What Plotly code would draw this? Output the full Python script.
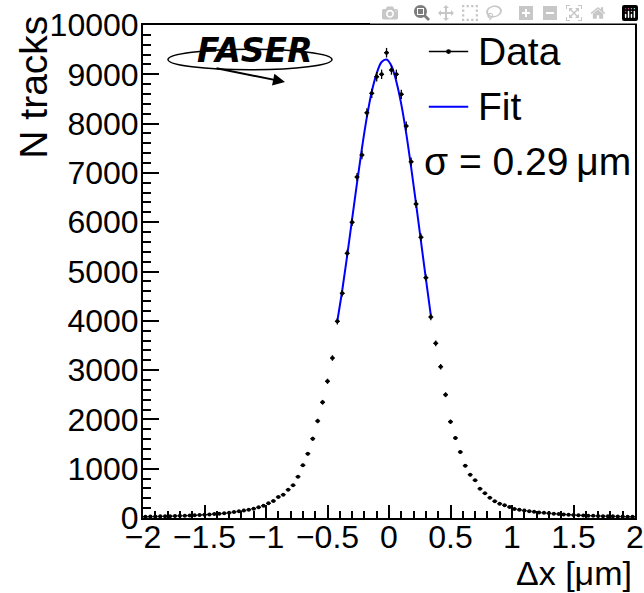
import numpy as np
import plotly.graph_objects as go

# ---- data ----
bin_centers = [
    -1.98, -1.94, -1.90, -1.86, -1.82, -1.78, -1.74, -1.70, -1.66, -1.62,
    -1.58, -1.54, -1.50, -1.46, -1.42, -1.38, -1.34, -1.30, -1.26, -1.22,
    -1.18, -1.14, -1.10, -1.06, -1.02, -0.98, -0.94, -0.90, -0.86, -0.82,
    -0.78, -0.74, -0.70, -0.66, -0.62, -0.58, -0.54, -0.50, -0.46, -0.42,
    -0.38, -0.34, -0.30, -0.26, -0.22, -0.18, -0.14, -0.10, -0.06, -0.02,
    0.02, 0.06, 0.10, 0.14, 0.18, 0.22, 0.26, 0.30, 0.34, 0.38,
    0.42, 0.46, 0.50, 0.54, 0.58, 0.62, 0.66, 0.70, 0.74, 0.78,
    0.82, 0.86, 0.90, 0.94, 0.98, 1.02, 1.06, 1.10, 1.14, 1.18,
    1.22, 1.26, 1.30, 1.34, 1.38, 1.42, 1.46, 1.50, 1.54, 1.58,
    1.62, 1.66, 1.70, 1.74, 1.78, 1.82, 1.86, 1.90, 1.94, 1.98,
]
n_tracks = [
    27, 29, 31, 33, 35, 38, 40, 44, 47, 50,
    55, 60, 65, 72, 80, 88, 95, 105, 120, 135,
    150, 168, 189, 217, 250, 298, 345, 426, 473, 575,
    663, 838, 1068, 1305, 1609, 1968, 2347, 2773, 3245, 3990,
    4558, 5369, 5998, 6917, 7363, 8221, 8614, 8951, 9000, 9438,
    9087, 9000, 8594, 7951, 7227, 6369, 5694, 4875, 4077, 3543,
    3069, 2501, 1953, 1623, 1339, 1061, 878, 765, 594, 501,
    412, 339, 290, 258, 223, 183, 165, 150, 138, 125,
    112, 104, 96, 88, 80, 73, 67, 61, 56, 52,
    48, 44, 41, 38, 35, 33, 31, 29, 27, 25,
]
bin_half_width = 0.02

fit_x = [-0.42, -0.38, -0.34, -0.30, -0.26, -0.22, -0.18, -0.14, -0.10, -0.06,
         -0.02, 0.02, 0.06, 0.10, 0.14, 0.18, 0.22, 0.26, 0.30, 0.34]
fit_y = [4000, 4620, 5320, 6060, 6800, 7500, 8130, 8650, 9020, 9250,
         9300, 9170, 8850, 8390, 7800, 7110, 6370, 5610, 4850, 4110]

x_ticks = [-2, -1.5, -1, -0.5, 0, 0.5, 1, 1.5, 2]
x_ticklabels = ["\u22122", "\u22121.5", "\u22121", "\u22120.5", "0", "0.5", "1", "1.5", "2"]
y_ticks = [0, 1000, 2000, 3000, 4000, 5000, 6000, 7000, 8000, 9000, 10000]
y_ticklabels = ["0", "1000", "2000", "3000", "4000", "5000", "6000", "7000", "8000", "9000", "10000"]

FONT = "Liberation Sans, Arial, Helvetica, sans-serif"
FS_TICK = 32
FS_LEG = 39

errs = np.sqrt(np.array(n_tracks, dtype=float))

fig = go.Figure()
fig.add_trace(go.Scatter(
    x=fit_x, y=fit_y, mode="lines", line=dict(color="#0000ff", width=2, shape="spline"),
    showlegend=False, name="Fit"))
fig.add_trace(go.Scatter(
    x=bin_centers, y=n_tracks, mode="markers",
    marker=dict(color="black", size=4, symbol="circle"),
    error_y=dict(type="data", array=errs, width=0, thickness=1.3, color="black"),
    error_x=dict(type="constant", value=bin_half_width, width=0, thickness=1.3, color="black"),
    showlegend=False, name="Data"))

axis_common = dict(
    showgrid=False, zeroline=False, showline=True, linecolor="black", linewidth=2,
    mirror=True, ticks="inside", tickcolor="black", tickwidth=2, automargin=False,
    ticklabeloverflow="allow",
    tickfont=dict(family=FONT, size=FS_TICK, color="black"),
)
fig.update_xaxes(range=[-2, 2], tickvals=x_ticks, ticktext=x_ticklabels, ticklen=13,
                 ticklabelstandoff=-10,
                 minor=dict(dtick=0.1, ticks="inside", ticklen=7, tickcolor="black", tickwidth=1.5),
                 **axis_common)
fig.update_yaxes(range=[0, 10000], tickvals=y_ticks, ticktext=y_ticklabels, ticklen=16,
                 ticklabelstandoff=-4,
                 minor=dict(dtick=200, ticks="inside", ticklen=8, tickcolor="black", tickwidth=1.5),
                 **axis_common)

annotations = [
    dict(text="N tracks", xref="paper", yref="paper", x=-0.2215, y=1.022, xanchor="center",
         yanchor="top", textangle=-90, showarrow=False, font=dict(family=FONT, size=39, color="black")),
    dict(text="\u0394x [\u03bcm]", xref="paper", yref="paper", x=0.998, y=-0.1116, xanchor="right",
         yanchor="middle", showarrow=False, font=dict(family=FONT, size=34, color="black")),
    # legend
    dict(text="Data", xref="paper", yref="paper", x=0.676, y=0.946, xanchor="left", yanchor="middle",
         showarrow=False, font=dict(family=FONT, size=FS_LEG, color="black")),
    dict(text="Fit", xref="paper", yref="paper", x=0.676, y=0.834, xanchor="left", yanchor="middle",
         showarrow=False, font=dict(family=FONT, size=FS_LEG, color="black")),
    dict(text="\u03c3 = 0.29\u2009\u03bcm", xref="paper", yref="paper", x=0.568, y=0.723, xanchor="left",
         yanchor="middle", showarrow=False, font=dict(family=FONT, size=FS_LEG, color="black")),
    # FASER logo
    dict(text="<b><i>FASER</i></b>", xref="paper", yref="paper", x=0.2276, y=0.949, xanchor="center",
         yanchor="middle", showarrow=False, font=dict(family="DejaVu Sans", size=33, color="black")),
    dict(text="", xref="paper", yref="paper", x=0.2886, y=0.8844, ax=-70, ay=-14, axref="pixel",
         ayref="pixel", showarrow=True, arrowhead=2, arrowsize=1.2, arrowwidth=2, arrowcolor="black"),
]

shapes = [
    # legend line samples
    dict(type="line", xref="paper", yref="paper", x0=0.581, x1=0.661, y0=0.946, y1=0.946,
         line=dict(color="black", width=1.5)),
    dict(type="line", xref="paper", yref="paper", x0=0.581, x1=0.661, y0=0.834, y1=0.834,
         line=dict(color="#0000ff", width=2)),
    dict(type="circle", xref="paper", yref="paper", x0=0.616, x1=0.626, y0=0.941, y1=0.951,
         fillcolor="black", line=dict(color="black", width=0)),
    # logo ellipse
    dict(type="circle", xref="paper", yref="paper", x0=0.0508, x1=0.3841, y0=0.909, y1=0.951,
         line=dict(color="black", width=1.5)),
]

fig.update_layout(
    width=644, height=593,
    margin=dict(l=143, r=9, t=25, b=75),
    paper_bgcolor="white", plot_bgcolor="white",
    annotations=annotations, shapes=shapes,
    font=dict(family=FONT, size=FS_TICK, color="black"),
)

fig.write_html(
    "out.html",
    post_script="document.body.style.margin='0px';document.body.style.overflow='hidden';",
)
